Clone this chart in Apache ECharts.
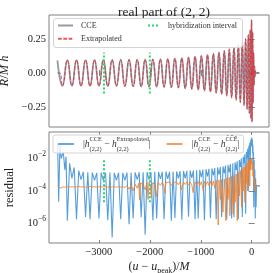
<!DOCTYPE html>
<html><head><meta charset="utf-8">
<script src="https://cdn.jsdelivr.net/npm/echarts@6/dist/echarts.min.js"></script>
<style>html,body{margin:0;padding:0;background:#fff}#c{width:273px;height:273px}</style>
</head><body><div id="c"></div>
<script>
// ---------- data ----------
const xTicks = [-3000, -2000, -1000, 0];
const yTicksTop = [-0.25, 0, 0.25];
const yTicksBottom = [1e-6, 1e-4, 1e-2];
const hybT = [-2900, -2000];
const hybTopSpan = [-0.15, 0.15];
const hybBottomSpan = [2e-5, 8e-3];

// start of each waveform (they differ before the shared oscillation)
const ccePrefixT = [-3815];
const ccePrefixV = [0.093];
const extPrefixT = [-3815, -3770];
const extPrefixV = [0, 0];

// extrema of the (2,2) real part (shared by both waveforms)
const waveT = [-3716,-3620,-3530,-3440,-3351,-3262,-3174,-3086,-2999,-2912,
  -2826,-2740,-2656,-2572,-2490,-2408,-2328,-2248,-2170,-2092,
  -2016,-1940,-1866,-1792,-1720,-1648,-1578,-1508,-1440,-1372,
  -1306,-1240,-1176,-1112,-1050,-988,-928,-868,-810,-752,
  -697,-642,-590,-538,-489,-440,-394,-348,-305,-262,
  -223,-184,-150,-118,-90,-66,-46,-29,-15,-3,
  8,18,28,37,46,55,64,73,82,95,150];
const waveV = [-0.094,0.094,-0.094,0.094,-0.095,0.094,-0.095,0.095,-0.095,0.095,
  -0.096,0.096,-0.096,0.097,-0.097,0.097,-0.098,0.098,-0.099,0.099,
  -0.100,0.100,-0.101,0.102,-0.103,0.104,-0.105,0.106,-0.107,0.109,
  -0.112,0.114,-0.117,0.120,-0.123,0.126,-0.129,0.133,-0.137,0.141,
  -0.145,0.150,-0.155,0.161,-0.167,0.174,-0.181,0.189,-0.197,0.206,
  -0.215,0.226,-0.238,0.251,-0.265,0.280,-0.296,0.315,-0.335,0.389,
  -0.358,0.300,-0.220,0.150,-0.090,0.050,-0.025,0.012,-0.005,0,0];

// |h_CCE - h_Extrapolated|
const blueT = [-3810,-3790,-3765,-3740,-3700,-3668,-3645,-3620,-3575,-3530,
  -3485,-3440,-3396,-3351,-3306,-3262,-3218,-3174,-3130,-3086,
  -3042,-2999,-2955,-2912,-2869,-2826,-2783,-2740,-2698,-2656,
  -2614,-2572,-2531,-2490,-2449,-2408,-2368,-2328,-2288,-2248,
  -2209,-2170,-2131,-2092,-2054,-2016,-1978,-1940,-1903,-1866,
  -1829,-1792,-1756,-1720,-1684,-1648,-1613,-1578,-1543,-1508,
  -1474,-1440,-1406,-1372,-1339,-1306,-1273,-1240,-1208,-1176,
  -1144,-1112,-1081,-1050,-1019,-988,-958,-928,-898,-868,
  -839,-810,-781,-752,-725,-697,-670,-642,-616,-590,
  -564,-538,-514,-489,-465,-440,-417,-394,-371,-348,
  -327,-305,-284,-262,-243,-223,-204,-184,-167,-150,
  -134,-118,-104,-90,-78,-66,-56,-46,-38,-29,
  -22,-15,-9,-3,2,8,13,18,24,28,
  33,40,48,55,62,70,78,86,95,110,125,160];
const blueV = [7e-2,2.2e-5,6.5e-2,1e-2,2.5e-2,2e-3,1.3e-2,1.5e-6,5e-3,6e-4,
  2.8e-3,1.8e-6,1.8e-3,5e-4,1.5e-3,2.5e-6,1.4e-3,1.8e-6,1.35e-3,4.5e-4,
  1.3e-3,2e-6,1.35e-3,4.5e-4,1.3e-3,1.6e-6,1.35e-3,1.4e-7,1.3e-3,4.5e-4,
  1.35e-3,1.8e-6,1.3e-3,4.5e-4,1.35e-3,9e-7,1.35e-3,2e-6,1.4e-3,5e-4,
  1.4e-3,2.4e-6,1.4e-3,2e-7,1.45e-3,5e-4,1.45e-3,1.6e-6,1.5e-3,2e-6,
  1.5e-3,5.5e-4,1.5e-3,1.8e-6,1.55e-3,5.5e-4,1.55e-3,1.5e-6,1.6e-3,2.2e-6,
  1.6e-3,6e-4,1.65e-3,1.7e-6,1.7e-3,6e-4,1.75e-3,2.6e-6,1.8e-3,6.5e-4,
  1.85e-3,1.8e-6,1.9e-3,2e-6,2e-3,7e-4,2.1e-3,1.6e-6,2.2e-3,8e-4,
  2.3e-3,2.2e-6,2.45e-3,9e-4,2.6e-3,1.8e-6,2.8e-3,1e-3,3e-3,2.5e-6,
  3.3e-3,1.2e-3,3.6e-3,1.8e-6,4e-3,1.4e-3,4.5e-3,2e-6,5e-3,2.4e-6,
  5.8e-3,2e-3,6.8e-3,1.8e-6,8e-3,3e-3,1e-2,2.5e-6,1.3e-2,5e-3,
  1.8e-2,4e-6,2.6e-2,1e-2,4e-2,1e-4,6e-2,2e-2,9e-2,2e-3,
  0.13,5e-2,0.17,8e-2,0.195,6e-2,0.15,2e-2,7e-2,5e-3,
  2.5e-2,1e-5,8e-3,2e-4,2e-3,2e-6,6e-4,1e-5,2.2e-4,2e-4,2.1e-4,2e-4];

// |h_CCE - h_CCEbar|
const orangeT = [-3810,-3785,-3760,-3730,-3700,-3660,-3620,-3575,-3530,-3485,
  -3440,-3396,-3351,-3306,-3262,-3218,-3174,-3130,-3086,-3042,
  -2999,-2955,-2912,-2869,-2826,-2783,-2740,-2698,-2656,-2614,
  -2572,-2531,-2490,-2449,-2408,-2368,-2328,-2288,-2248,-2220,
  -2200,-2180,-2131,-2092,-2054,-2035,-2016,-1990,-1970,-1950,
  -1903,-1870,-1840,-1792,-1756,-1720,-1703,-1684,-1648,-1613,
  -1578,-1543,-1508,-1474,-1440,-1406,-1380,-1339,-1306,-1273,
  -1240,-1208,-1176,-1150,-1112,-1081,-1050,-1019,-988,-950,
  -928,-898,-868,-839,-810,-781,-752,-725,-697,-670,
  -657,-642,-616,-590,-564,-538,-506,-489,-465,-440,
  -428,-394,-362,-348,-327,-305,-284,-262,-243,-223,
  -197,-184,-167,-150,-132,-118,-104,-90,-79,-66,
  -56,-46,-38,-29,-20,-10,-3,2,10,18,
  26,34,42,52,62,75,90,110,130,160];
const orangeV = [2.2e-4,2.4e-4,1.5e-4,1.3e-4,1.8e-4,1.7e-4,1.9e-4,1.75e-4,1.85e-4,1.7e-4,
  1.8e-4,1.9e-4,1.75e-4,1.85e-4,1.7e-4,1.8e-4,1.9e-4,1.75e-4,1.8e-4,1.7e-4,
  1.85e-4,1.75e-4,1.8e-4,1.9e-4,1.7e-4,1.8e-4,1.75e-4,1.85e-4,1.7e-4,1.9e-4,
  1.75e-4,1.85e-4,1.6e-4,2.1e-4,1.3e-4,2.3e-4,1e-4,2.6e-4,1.5e-4,3e-4,
  2.8e-5,3.2e-4,2.5e-4,1.2e-4,3.3e-4,3e-5,3.5e-4,2e-4,4e-5,3.2e-4,
  2.6e-4,4.5e-5,3.5e-4,2.2e-4,3.4e-4,1.8e-4,7e-5,3.3e-4,2.5e-4,3.6e-4,
  2.2e-4,3.4e-4,2.6e-4,3.5e-4,2.4e-4,3.6e-4,1.2e-4,3.5e-4,2.5e-4,3.7e-4,
  2.3e-4,3.6e-4,2.4e-4,8e-5,3.6e-4,2.5e-4,3.8e-4,2.2e-4,3.7e-4,1e-4,
  3.9e-4,2.4e-4,3.8e-4,2.2e-4,4e-4,2e-4,4.2e-4,1.5e-4,4.5e-4,1e-4,
  8e-7,4.8e-4,3e-5,5e-4,5e-6,5.5e-4,1.5e-6,6e-4,3e-5,7e-4,
  3e-6,8e-4,4e-6,9e-4,2e-5,1.1e-3,1.5e-6,1.4e-3,5e-5,1.8e-3,
  1e-5,2.3e-3,1e-4,3e-3,2e-5,4e-3,3e-4,5e-3,1e-4,6.5e-3,
  1e-3,8e-3,2e-4,9e-3,2e-3,1e-2,5e-3,1e-2,2e-3,6e-3,
  8e-4,2e-3,3e-4,6e-4,1e-4,2.5e-4,2e-4,2.2e-4,2e-4,2.1e-4];

const nameCCE = 'CCE';
const nameExt = 'Extrapolated';
const nameHyb = 'hybridization interval';
const nameBlue = '|h^CCE_(2,2) − h^Extrapolated_(2,2)|';
const nameOrange = '|h^CCE_(2,2) − h^C̄C̄Ē_(2,2)|';

// ---------- helpers ----------
const pairs = (ts, vs) => ts.map((t, i) => [t, vs[i]]);
const FONT = "'Liberation Serif', 'DejaVu Serif', serif";
const FRAME = '#808080';
const minus = s => s.replace('-', '−');
const HIDE_SYMBOL = { opacity: 0, color: 'rgba(0,0,0,0)', borderColor: 'rgba(0,0,0,0)', borderWidth: 0 };

const cceData = pairs(ccePrefixT, ccePrefixV).concat(pairs(waveT, waveV));
const extData = pairs(extPrefixT, extPrefixV).concat(pairs(waveT, waveV));

const X_MIN = -3980, X_MAX = 340;
const mkX = (grid, pos, labels) => ({
  type: 'value', gridIndex: grid, position: pos, min: X_MIN, max: X_MAX,
  axisLine: { show: false }, splitLine: { show: false },
  axisTick: { inside: true, length: 3, lineStyle: { color: FRAME }, customValues: xTicks },
  axisLabel: labels ? { show: true, customValues: xTicks, margin: 4, fontFamily: FONT, fontSize: 10.5, color: '#222',
      formatter: v => minus(String(v)) } : { show: false, customValues: xTicks },
  name: labels ? '({i|u} − {i|u}{s|peak})/{i|M}' : '',
  nameLocation: 'middle', nameGap: 15,
  nameTextStyle: { fontFamily: FONT, fontSize: 12, color: '#222', lineHeight: 16,
    rich: { i: { fontFamily: FONT, fontSize: 12, fontStyle: 'italic', lineHeight: 16 },
            s: { fontFamily: FONT, fontSize: 8, lineHeight: 9, verticalAlign: 'bottom' } } }
});

const labelRich = {
  b: { fontFamily: FONT, fontSize: 10.5, lineHeight: 16, color: '#222' },
  s: { fontFamily: FONT, fontSize: 7.5, lineHeight: 9, verticalAlign: 'top', color: '#222' }
};

const option = {
  animation: false,
  backgroundColor: '#fff',
  title: { text: 'real part of (2, 2)', left: 159, top: 0, textAlign: 'center',
    textStyle: { fontFamily: FONT, fontSize: 13.5, fontWeight: 'normal', color: '#222' } },
  grid: [
    { left: 49, top: 15, width: 220, height: 112, show: true, borderColor: FRAME, borderWidth: 1, outerBoundsMode: 'none', containLabel: false },
    { left: 49, top: 132, width: 220, height: 111, show: true, borderColor: FRAME, borderWidth: 1, outerBoundsMode: 'none', containLabel: false }
  ],
  xAxis: [ mkX(0, 'bottom', false), mkX(0, 'top', false), mkX(1, 'bottom', true), mkX(1, 'top', false) ],
  yAxis: [
    { type: 'value', gridIndex: 0, position: 'left', min: -0.396, max: 0.425,
      axisLine: { show: false }, splitLine: { show: false },
      axisTick: { inside: true, length: 3, lineStyle: { color: FRAME }, customValues: yTicksTop },
      axisLabel: { customValues: yTicksTop, margin: 3, fontFamily: FONT, fontSize: 10.5, color: '#222',
        formatter: v => minus(v.toFixed(2)) },
      name: '{i|R}/{i|M} {i|h}', nameLocation: 'middle', nameGap: 32,
      nameTextStyle: { fontFamily: FONT, fontSize: 12.5, color: '#222',
        rich: { i: { fontFamily: FONT, fontSize: 12.5, fontStyle: 'italic' } } } },
    { type: 'value', gridIndex: 0, position: 'right', min: -0.396, max: 0.425,
      axisLine: { show: false }, splitLine: { show: false },
      axisTick: { inside: true, length: 3, lineStyle: { color: FRAME }, customValues: yTicksTop },
      axisLabel: { show: false, customValues: yTicksTop } },
    { type: 'log', logBase: 10, gridIndex: 1, position: 'left', min: 6.3e-8, max: 0.4266,
      axisLine: { show: false }, splitLine: { show: false },
      axisTick: { inside: true, length: 3, lineStyle: { color: FRAME }, customValues: yTicksBottom },
      axisLabel: { customValues: yTicksBottom, margin: 3, rich: labelRich,
        formatter: v => '{b|10}{s|−' + Math.round(-Math.log10(v)) + '}' },
      name: 'residual', nameLocation: 'middle', nameGap: 33,
      nameTextStyle: { fontFamily: FONT, fontSize: 12.5, color: '#222' } },
    { type: 'log', logBase: 10, gridIndex: 1, position: 'right', min: 6.3e-8, max: 0.4266,
      axisLine: { show: false }, splitLine: { show: false },
      axisTick: { inside: true, length: 3, lineStyle: { color: FRAME }, customValues: yTicksBottom },
      axisLabel: { show: false, customValues: yTicksBottom } }
  ],
  graphic: [
    { type: 'rect', left: 53, top: 18, z: 9,
      shape: { width: 189, height: 29, r: 2.5 },
      style: { fill: 'rgba(255,255,255,0.8)', stroke: '#d4d4d4', lineWidth: 1 } }
  ],
  legend: [
    { data: [nameCCE, nameExt], orient: 'vertical', left: 57, top: 20.5, padding: 0, itemGap: 3.3,
      itemWidth: 15, itemHeight: 8, selectedMode: false, z: 10, itemStyle: HIDE_SYMBOL,
      textStyle: { fontFamily: FONT, fontSize: 8, color: '#333', lineHeight: 10, padding: [0, 0, 0, 3] } },
    { data: [nameHyb], orient: 'vertical', left: 147, top: 20.5, padding: 0,
      itemWidth: 12, itemHeight: 8, selectedMode: false, z: 10, itemStyle: HIDE_SYMBOL,
      textStyle: { fontFamily: FONT, fontSize: 8, color: '#333', lineHeight: 10, padding: [0, 0, 0, 3] } },
    { data: [nameBlue, nameOrange], left: 53, top: 135, padding: [1, 4, 1, 4], itemGap: 15,
      itemWidth: 16, itemHeight: 12, selectedMode: false, z: 10, itemStyle: HIDE_SYMBOL,
      lineStyle: { width: 1.8 },
      backgroundColor: 'rgba(255,255,255,0.8)', borderColor: '#d4d4d4', borderWidth: 1, borderRadius: 2.5,
      formatter: name => name === nameBlue
        ? '{n||}{i|h}{sb|(2,2)}{sp|CCE}{n| − }{i|h}{sb|(2,2)}{sp|Extrapolated}{n||}'
        : '{n||}{i|h}{sb|(2,2)}{sp|CCE}{n| − }{i|h}{sb|(2,2)}{sp|C̄C̄Ē}{n||}',
      textStyle: { fontFamily: FONT, fontSize: 9.5, color: '#333', padding: [0, 0, 0, 4],
        rich: {
          n: { fontFamily: FONT, fontSize: 9.5, lineHeight: 16, color: '#333' },
          i: { fontFamily: FONT, fontSize: 9.5, fontStyle: 'italic', lineHeight: 16, color: '#333' },
          sb: { fontFamily: FONT, fontSize: 6.3, lineHeight: 8, verticalAlign: 'bottom', width: 0, color: '#333' },
          sp: { fontFamily: FONT, fontSize: 6.3, lineHeight: 8, verticalAlign: 'top', color: '#333' }
        } } }
  ],
  series: [
    { name: nameCCE, type: 'line', xAxisIndex: 0, yAxisIndex: 0, data: cceData, smooth: 0.5,
      symbol: 'none', z: 2, lineStyle: { color: 'rgba(74,92,114,0.6)', width: 1.8 }, itemStyle: { color: 'rgba(74,92,114,0.6)' } },
    { name: nameExt, type: 'line', xAxisIndex: 0, yAxisIndex: 0, data: extData, smooth: 0.5,
      symbol: 'none', z: 3, lineStyle: { color: 'rgba(222,50,52,0.8)', width: 1.1, type: [3.7, 1.6] }, itemStyle: { color: 'rgba(222,50,52,0.8)' } },
    ...hybT.map(t => ({ name: nameHyb, type: 'line', xAxisIndex: 0, yAxisIndex: 0, symbol: 'none', z: 5,
      data: [[t, hybTopSpan[0]], [t, hybTopSpan[1]]],
      lineStyle: { color: '#2ed36a', width: 2, type: [2, 2] }, itemStyle: { color: '#2ed36a' } })),
    { name: nameBlue, type: 'line', xAxisIndex: 2, yAxisIndex: 2, data: pairs(blueT, blueV),
      symbol: 'none', z: 2, lineStyle: { color: 'rgba(44,134,210,0.8)', width: 1.1 }, itemStyle: { color: 'rgba(44,134,210,0.8)' } },
    { name: nameOrange, type: 'line', xAxisIndex: 2, yAxisIndex: 2, data: pairs(orangeT, orangeV),
      symbol: 'none', z: 3, lineStyle: { color: 'rgba(240,128,44,0.85)', width: 1 }, itemStyle: { color: 'rgba(240,128,44,0.85)' } },
    ...hybT.map(t => ({ name: nameHyb, type: 'line', xAxisIndex: 2, yAxisIndex: 2, symbol: 'none', z: 5,
      data: [[t, hybBottomSpan[0]], [t, hybBottomSpan[1]]],
      lineStyle: { color: '#2ed36a', width: 2, type: [2, 2] }, itemStyle: { color: '#2ed36a' } }))
  ]
};

const chart = echarts.init(document.getElementById('c'), null, { renderer: 'canvas' });
chart.setOption(option);
</script></body></html>
